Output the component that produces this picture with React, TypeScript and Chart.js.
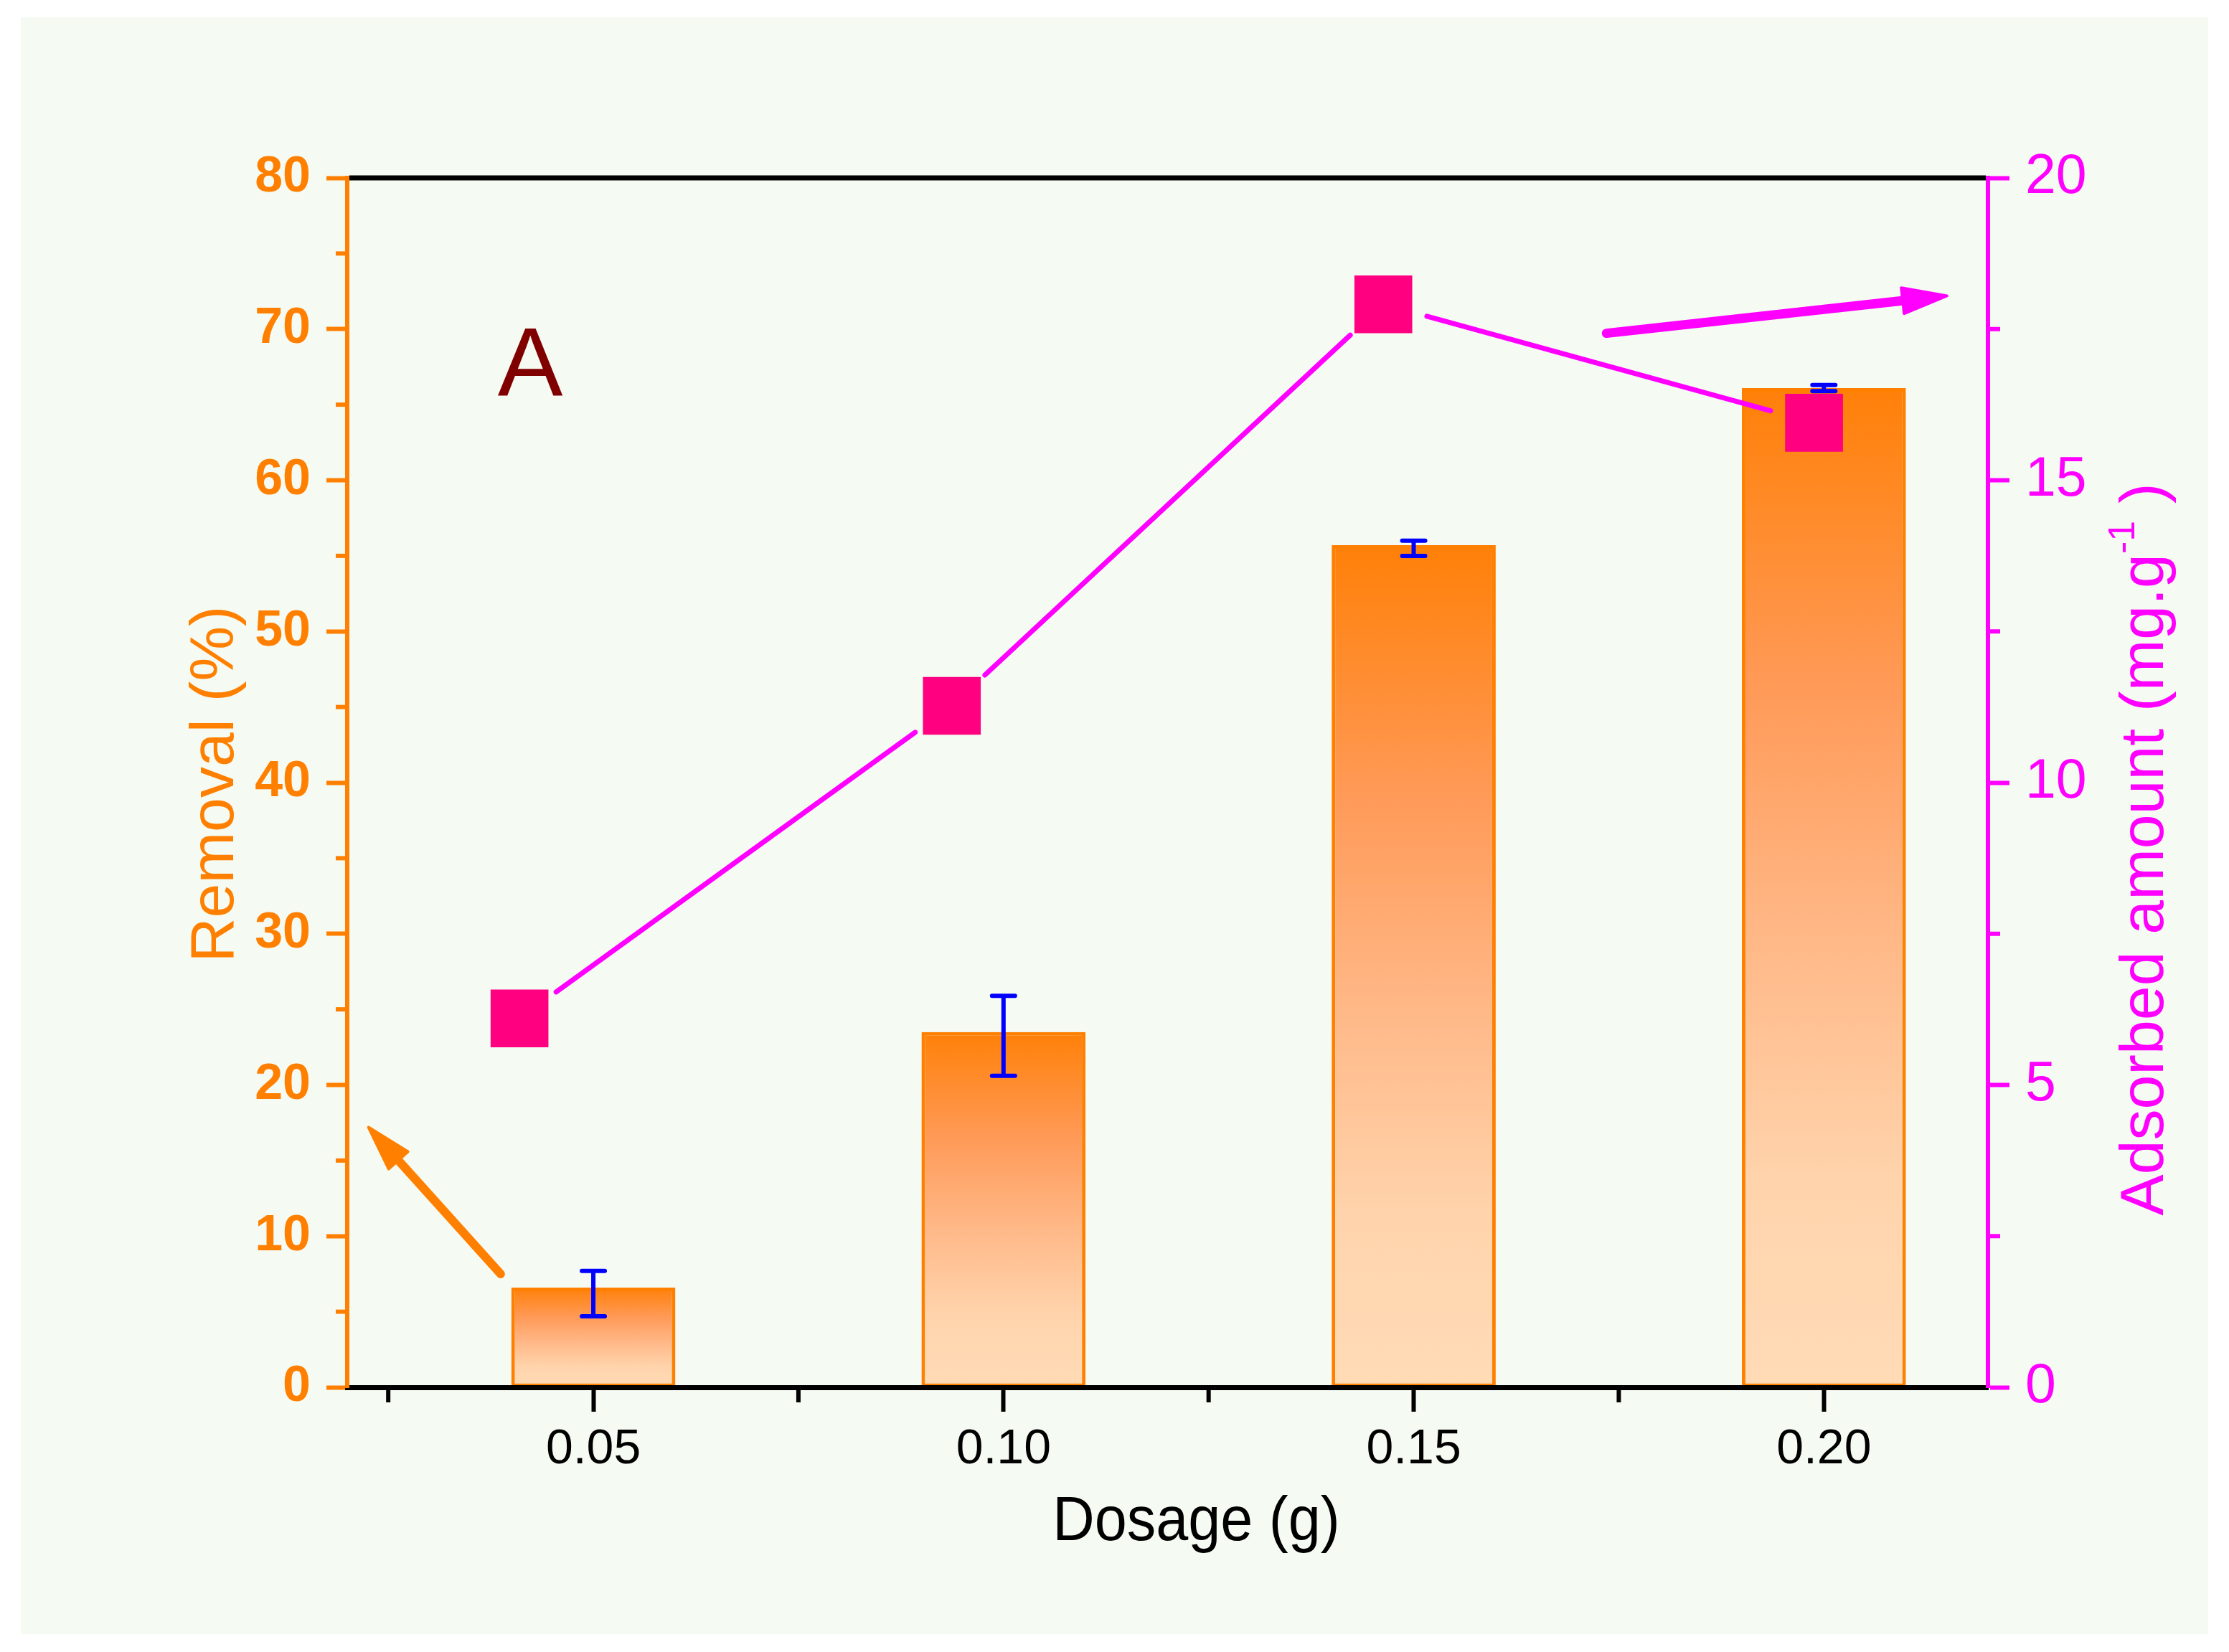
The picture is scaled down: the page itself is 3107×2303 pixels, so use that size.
import { useEffect, useRef } from 'react';
import { Chart, registerables } from 'chart.js';

Chart.register(...registerables);

const W = 3107;
const H = 2303;
const FONT = '"Liberation Sans", Arial, Helvetica, sans-serif';

// ---- data ----
const dosage = [0.05, 0.1, 0.15, 0.2];
const removal = [6.6, 23.5, 55.7, 66.1];
const removalErrLow = [4.7, 20.6, 55.0, 65.9];
const removalErrHigh = [7.7, 25.9, 56.0, 66.3];
const adsorbedDosage = [0.041, 0.0937, 0.1463, 0.1988];
const adsorbed = [6.1, 11.27, 17.91, 15.95];

// ---- ticks ----
const dosageTicks = [0.05, 0.1, 0.15, 0.2];
const dosageMinorTicks = [0.025, 0.075, 0.125, 0.175];
const removalTicks = [0, 10, 20, 30, 40, 50, 60, 70, 80];
const removalMinorTicks = [5, 15, 25, 35, 45, 55, 65, 75];
const adsorbedTicks = [0, 5, 10, 15, 20];
const adsorbedMinorTicks = [2.5, 7.5, 12.5, 17.5];

// ---- annotations (in data units) ----
const removalArrowFrom = [0.0387, 7.5];
const removalArrowTo = [0.0226, 17.2];
const adsorbedArrowFrom = [0.1735, 17.43];
const adsorbedArrowTo = [0.215, 18.05];
const panelLabelAt = [0.0423, 65.6];

const ORANGE = '#ff8000';
const MAGENTA = '#ff00ff';
const PINK = '#ff0080';
const BLUE = '#0000ff';
const PANEL = '#f5faf3';

function drawArrow(ctx: CanvasRenderingContext2D, x1: number, y1: number, x2: number, y2: number, color: string, shaftW: number) {
  const dx = x2 - x1;
  const dy = y2 - y1;
  const len = Math.hypot(dx, dy);
  const ux = dx / len;
  const uy = dy / len;
  const headLen = 62;
  const headHalf = 18;
  const bx = x2 - ux * headLen;
  const by = y2 - uy * headLen;
  ctx.save();
  ctx.strokeStyle = color;
  ctx.fillStyle = color;
  ctx.lineCap = 'round';
  ctx.lineJoin = 'round';
  ctx.lineWidth = shaftW;
  ctx.beginPath();
  ctx.moveTo(x1, y1);
  ctx.lineTo(bx + ux * 6, by + uy * 6);
  ctx.stroke();
  ctx.lineWidth = 4;
  ctx.beginPath();
  ctx.moveTo(x2, y2);
  ctx.lineTo(bx - uy * headHalf, by + ux * headHalf);
  ctx.lineTo(bx + uy * headHalf, by - ux * headHalf);
  ctx.closePath();
  ctx.fill();
  ctx.stroke();
  ctx.restore();
}

const backgroundPlugin = {
  id: 'panelBackground',
  beforeDraw(chart: any) {
    const { ctx } = chart;
    ctx.save();
    ctx.fillStyle = '#ffffff';
    ctx.fillRect(0, 0, chart.width, chart.height);
    ctx.fillStyle = PANEL;
    ctx.fillRect(29, 24, chart.width - 58, chart.height - 49);
    ctx.restore();
  },
};

const errorBarPlugin = {
  id: 'errorBars',
  afterDatasetDraw(chart: any, args: any) {
    if (args.index !== 0) return;
    const { ctx } = chart;
    const ys = chart.scales.y;
    const meta = chart.getDatasetMeta(0);
    ctx.save();
    ctx.strokeStyle = BLUE;
    ctx.lineCap = 'round';
    ctx.lineWidth = 6;
    meta.data.forEach((el: any, i: number) => {
      const x = el.x;
      const yl = ys.getPixelForValue(removalErrLow[i]);
      const yh = ys.getPixelForValue(removalErrHigh[i]);
      ctx.beginPath();
      ctx.moveTo(x, yl);
      ctx.lineTo(x, yh);
      ctx.moveTo(x - 16, yl);
      ctx.lineTo(x + 16, yl);
      ctx.moveTo(x - 16, yh);
      ctx.lineTo(x + 16, yh);
      ctx.stroke();
    });
    ctx.restore();
  },
};

const connectorPlugin = {
  id: 'gappedConnector',
  beforeDatasetDraw(chart: any, args: any) {
    if (args.index !== 1) return;
    const { ctx } = chart;
    const pts = chart.getDatasetMeta(1).data;
    const gap = 63;
    ctx.save();
    ctx.strokeStyle = MAGENTA;
    ctx.lineWidth = 7;
    ctx.lineCap = 'round';
    for (let i = 0; i < pts.length - 1; i++) {
      const p = pts[i];
      const q = pts[i + 1];
      const dx = q.x - p.x;
      const dy = q.y - p.y;
      const len = Math.hypot(dx, dy);
      const ux = dx / len;
      const uy = dy / len;
      ctx.beginPath();
      ctx.moveTo(p.x + ux * gap, p.y + uy * gap);
      ctx.lineTo(q.x - ux * gap, q.y - uy * gap);
      ctx.stroke();
    }
    ctx.restore();
  },
};

const decorPlugin = {
  id: 'decorations',
  afterDraw(chart: any) {
    const { ctx, chartArea: ca } = chart;
    const xs = chart.scales.x;
    const ys = chart.scales.y;
    const ys1 = chart.scales.y1;
    ctx.save();

    // top frame line
    ctx.strokeStyle = '#000000';
    ctx.lineWidth = 7;
    ctx.beginPath();
    ctx.moveTo(ca.left + 3, ca.top);
    ctx.lineTo(ca.right - 3, ca.top);
    ctx.stroke();

    // minor ticks
    ctx.lineWidth = 6;
    ctx.strokeStyle = ORANGE;
    removalMinorTicks.forEach((v) => {
      const y = ys.getPixelForValue(v);
      ctx.beginPath();
      ctx.moveTo(ca.left - 3, y);
      ctx.lineTo(ca.left - 16, y);
      ctx.stroke();
    });
    ctx.strokeStyle = MAGENTA;
    adsorbedMinorTicks.forEach((v) => {
      const y = ys1.getPixelForValue(v);
      ctx.beginPath();
      ctx.moveTo(ca.right + 3, y);
      ctx.lineTo(ca.right + 17, y);
      ctx.stroke();
    });
    ctx.strokeStyle = '#000000';
    dosageMinorTicks.forEach((v) => {
      const x = xs.getPixelForValue(v);
      ctx.beginPath();
      ctx.moveTo(x, ca.bottom + 3);
      ctx.lineTo(x, ca.bottom + 21);
      ctx.stroke();
    });

    // arrows
    drawArrow(
      ctx,
      xs.getPixelForValue(removalArrowFrom[0]), ys.getPixelForValue(removalArrowFrom[1]),
      xs.getPixelForValue(removalArrowTo[0]), ys.getPixelForValue(removalArrowTo[1]),
      ORANGE, 12,
    );
    drawArrow(
      ctx,
      xs.getPixelForValue(adsorbedArrowFrom[0]), ys1.getPixelForValue(adsorbedArrowFrom[1]),
      xs.getPixelForValue(adsorbedArrowTo[0]), ys1.getPixelForValue(adsorbedArrowTo[1]),
      MAGENTA, 13,
    );

    // panel label
    ctx.fillStyle = '#800000';
    ctx.font = `136px ${FONT}`;
    ctx.textAlign = 'center';
    ctx.textBaseline = 'alphabetic';
    ctx.fillText('A', xs.getPixelForValue(panelLabelAt[0]), ys.getPixelForValue(panelLabelAt[1]));

    // left axis title
    ctx.save();
    ctx.translate(ca.left - 159, (ca.top + ca.bottom) / 2 + 2);
    ctx.rotate(-Math.PI / 2);
    ctx.fillStyle = ORANGE;
    ctx.font = `86px ${FONT}`;
    ctx.textAlign = 'center';
    ctx.fillText('Removal (%)', 0, 0);
    ctx.restore();

    // right axis title with superscript
    ctx.save();
    ctx.translate(ca.right + 244, (ca.top + ca.bottom) / 2 + 93);
    ctx.rotate(-Math.PI / 2);
    ctx.fillStyle = MAGENTA;
    ctx.textAlign = 'left';
    const mainFont = `86px ${FONT}`;
    const supFont = `52px ${FONT}`;
    const t1 = 'Adsorbed amount (mg.g';
    const t2 = '-1';
    const t3 = ' )';
    ctx.font = mainFont;
    const w1 = ctx.measureText(t1).width;
    const w3 = ctx.measureText(t3).width;
    ctx.font = supFont;
    const w2 = ctx.measureText(t2).width;
    const total = w1 + w2 + w3;
    let x0 = -total / 2;
    ctx.font = mainFont;
    ctx.fillText(t1, x0, 0);
    x0 += w1;
    ctx.font = supFont;
    ctx.fillText(t2, x0, -40);
    x0 += w2;
    ctx.font = mainFont;
    ctx.fillText(t3, x0, 0);
    ctx.restore();

    // bottom axis title
    ctx.save();
    ctx.translate((ca.left + ca.right) / 2 + 40, ca.bottom + 213);
    ctx.scale(0.92, 1);
    ctx.fillStyle = '#000000';
    ctx.font = `88px ${FONT}`;
    ctx.textAlign = 'center';
    ctx.fillText('Dosage (g)', 0, 0);
    ctx.restore();

    ctx.restore();
  },
};

export default function App() {
  const canvasRef = useRef<HTMLCanvasElement | null>(null);

  useEffect(() => {
    document.body.style.margin = '0';
    const canvas = canvasRef.current;
    if (!canvas) return;

    const barGradient = (c: any) => {
      const chart = c.chart;
      if (!chart.chartArea || c.type !== 'data') return ORANGE;
      const ys = chart.scales.y;
      const top = ys.getPixelForValue(removal[c.dataIndex]);
      const bottom = ys.getPixelForValue(0);
      const g = chart.ctx.createLinearGradient(0, top, 0, bottom);
      g.addColorStop(0, '#ff8008');
      g.addColorStop(0.3, '#ff9a58');
      g.addColorStop(0.55, '#ffb887');
      g.addColorStop(0.8, '#ffd4ad');
      g.addColorStop(1, '#ffdbb6');
      return g;
    };

    const chart = new Chart(canvas, {
      type: 'bar',
      data: {
        datasets: [
          {
            type: 'bar',
            label: 'Removal (%)',
            data: dosage.map((x, i) => ({ x, y: removal[i] })),
            xAxisID: 'x',
            yAxisID: 'y',
            backgroundColor: barGradient,
            borderColor: ORANGE,
            borderWidth: 5,
            borderSkipped: false,
            barPercentage: 0.4,
            categoryPercentage: 1,
            order: 2,
          } as any,
          {
            type: 'line',
            label: 'Adsorbed amount',
            data: adsorbedDosage.map((x, i) => ({ x, y: adsorbed[i] })),
            xAxisID: 'x',
            yAxisID: 'y1',
            showLine: false,
            pointStyle: 'rect',
            pointRadius: 57,
            pointHoverRadius: 57,
            pointBackgroundColor: PINK,
            pointBorderWidth: 0,
            borderWidth: 0,
            order: 1,
          } as any,
        ],
      },
      options: {
        animation: false,
        responsive: false,
        devicePixelRatio: 1,
        events: [],
        layout: { padding: { top: 248, left: 0, right: 0, bottom: 0 } },
        plugins: {
          legend: { display: false },
          tooltip: { enabled: false },
          title: { display: false },
        },
        scales: {
          x: {
            type: 'linear',
            position: 'bottom',
            min: 0.02,
            max: 0.22,
            offset: false,
            afterBuildTicks: (s: any) => {
              s.ticks = dosageTicks.map((v) => ({ value: v }));
            },
            afterFit: (s: any) => {
              s.height = 369;
            },
            ticks: {
              autoSkip: false,
              maxRotation: 0,
              padding: 12,
              color: '#000000',
              font: { family: FONT, size: 68 },
              callback: (v: any) => Number(v).toFixed(2),
            },
            grid: {
              display: true,
              offset: false,
              drawOnChartArea: false,
              drawTicks: true,
              tickLength: 34,
              tickWidth: 6,
              tickColor: '#000000',
            },
            border: { display: true, color: '#000000', width: 7, z: 1 },
          },
          y: {
            type: 'linear',
            position: 'left',
            min: 0,
            max: 80,
            afterBuildTicks: (s: any) => {
              s.ticks = removalTicks.map((v) => ({ value: v }));
            },
            afterFit: (s: any) => {
              s.width = 484;
            },
            ticks: {
              padding: 22,
              color: ORANGE,
              font: { family: FONT, size: 70, weight: 'bold' },
              callback: (v: any) => String(v),
            },
            grid: {
              display: true,
              drawOnChartArea: false,
              drawTicks: true,
              tickLength: 29,
              tickWidth: 6,
              tickColor: ORANGE,
            },
            border: { display: true, color: ORANGE, width: 6, z: 1 },
          },
          y1: {
            type: 'linear',
            position: 'right',
            min: 0,
            max: 20,
            afterBuildTicks: (s: any) => {
              s.ticks = adsorbedTicks.map((v) => ({ value: v }));
            },
            afterFit: (s: any) => {
              s.width = W - 2771;
            },
            ticks: {
              padding: 22,
              color: MAGENTA,
              font: { family: FONT, size: 77 },
              callback: (v: any) => String(v),
            },
            grid: {
              display: true,
              drawOnChartArea: false,
              drawTicks: true,
              tickLength: 30,
              tickWidth: 6,
              tickColor: MAGENTA,
            },
            border: { display: true, color: MAGENTA, width: 6, z: 1 },
          },
        },
      } as any,
      plugins: [backgroundPlugin, errorBarPlugin, connectorPlugin, decorPlugin],
    });

    return () => {
      chart.destroy();
    };
  }, []);

  return (
    <div style={{ width: W, height: H, background: '#ffffff' }}>
      <canvas
        ref={canvasRef}
        width={W}
        height={H}
        style={{ display: 'block', width: `${W}px`, height: `${H}px` }}
      />
    </div>
  );
}
